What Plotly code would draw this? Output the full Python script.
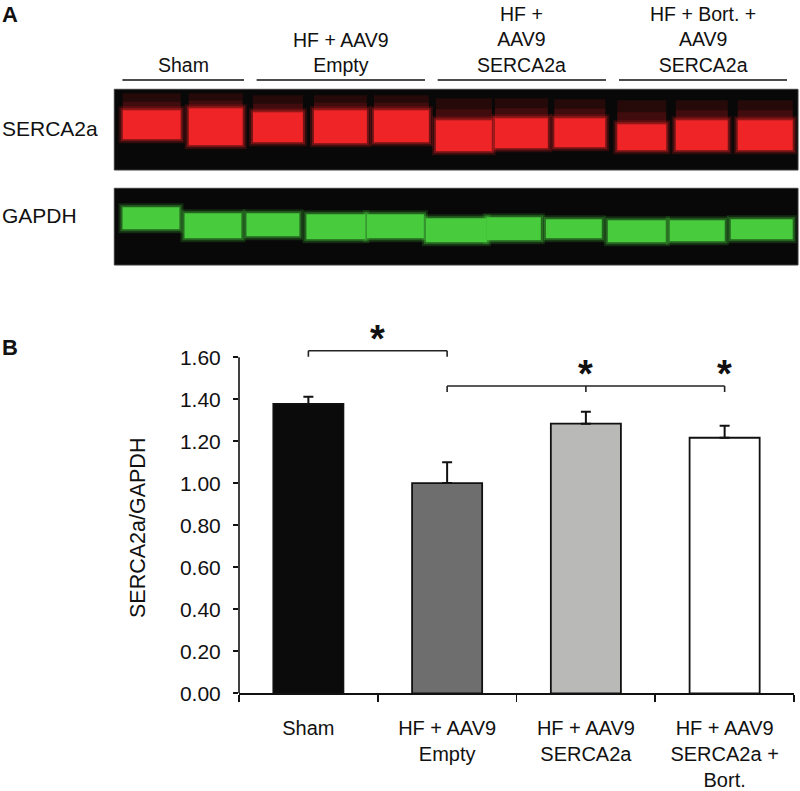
import plotly.graph_objects as go

W, H = 800, 791
FONT = "Liberation Sans, Arial, sans-serif"

# ---------------- Panel B data ----------------
categories = ["Sham", "HF + AAV9<br>Empty", "HF + AAV9<br>SERCA2a", "HF + AAV9<br>SERCA2a +<br>Bort."]
ratio_mean = [1.378, 1.001, 1.284, 1.217]
ratio_sem = [0.034, 0.099, 0.057, 0.057]
bar_colors = ["#0b0b0b", "#6d6e6d", "#b9b9b7", "#ffffff"]
y_ticks = [0.0, 0.2, 0.4, 0.6, 0.8, 1.0, 1.2, 1.4, 1.6]
y_tick_labels = ["0.00", "0.20", "0.40", "0.60", "0.80", "1.00", "1.20", "1.40", "1.60"]
# significance: reference category index -> compared category indices
sig_ref = [0, 1]
sig_targets = [[1], [2, 3]]

# ---------------- Panel A data (blot, units = distance from blot edge) ----------------
group_labels = ["Sham", "HF + AAV9<br>Empty", "HF +<br>AAV9<br>SERCA2a", "HF + Bort. +<br>AAV9<br>SERCA2a"]
lanes_per_group = [2, 3, 3, 3]
red_lane_x = [37.4, 101.5, 163.7, 226.2, 287.2, 349.7, 407.2, 465.7, 527.7, 587.7, 651.2]
red_lane_w = [58, 54, 50, 53, 55, 56, 53, 51, 49, 52, 55]
red_top = [21, 19, 23, 21, 21, 31, 29, 29, 35, 31, 31]
red_bottom = [50, 56, 53, 54, 53, 62, 59, 58, 61, 61, 61]
red_smear_top = [4, 4, 6, 6, 6, 9, 9, 10, 11, 11, 11]
green_lane_x = [36.7, 98.7, 158.7, 221.7, 281.2, 342.2, 399.7, 459.7, 522.7, 583.2, 647.7]
green_lane_w = [57, 57, 53, 59, 57, 61, 54, 56, 58, 55, 62]
green_top = [19, 25, 25, 26, 26, 30, 29, 31, 32, 32, 31]
green_bottom = [41, 50, 48, 51, 50, 54, 52, 50, 54, 53, 51]
RED_H, GREEN_H, BLOT_W = 80.7, 76.7, 684


def px(x):
    return x / W


def py(y):
    return 1 - y / H


fig = go.Figure()

# ---- bar chart ----
fig.add_trace(go.Bar(
    x=categories, y=ratio_mean,
    marker=dict(color=bar_colors, line=dict(color="#111111", width=1.8)),
    error_y=dict(type="data", array=ratio_sem, arrayminus=[0] * len(ratio_sem),
                 symmetric=False, color="#111111", thickness=2, width=5),
    xaxis="x", yaxis="y", showlegend=False, hoverinfo="skip",
))


def band_traces(xs, ws, tops, bottoms, rgb, xa, ya):
    out = []
    for grow, alpha in ((4, 0.18), (2, 0.35)):
        out.append(go.Bar(
            x=xs, y=[b - t + 2 * grow for t, b in zip(tops, bottoms)], base=[t - grow for t in tops],
            width=[w + 2 * grow for w in ws],
            marker=dict(color="rgba(%d,%d,%d,%.2f)" % (rgb + (alpha,)), line_width=0),
            xaxis=xa, yaxis=ya, showlegend=False, hoverinfo="skip"))
    out.append(go.Bar(
        x=xs, y=[b - t for t, b in zip(tops, bottoms)], base=tops,
        width=ws, marker=dict(color="rgb(%d,%d,%d)" % rgb, line_width=0),
        xaxis=xa, yaxis=ya, showlegend=False, hoverinfo="skip"))
    return out


# red smear above SERCA2a bands (two soft layers)
fig.add_trace(go.Bar(
    x=red_lane_x, y=[t - s for s, t in zip(red_smear_top, red_top)], base=red_smear_top,
    width=red_lane_w, marker=dict(color="rgba(110,16,18,0.30)", line_width=0),
    xaxis="x2", yaxis="y2", showlegend=False, hoverinfo="skip"))
fig.add_trace(go.Bar(
    x=red_lane_x, y=[(t - s) / 2 for s, t in zip(red_smear_top, red_top)],
    base=[(s + t) / 2 for s, t in zip(red_smear_top, red_top)],
    width=red_lane_w, marker=dict(color="rgba(130,20,22,0.30)", line_width=0),
    xaxis="x2", yaxis="y2", showlegend=False, hoverinfo="skip"))
for tr in band_traces(red_lane_x, red_lane_w, red_top, red_bottom, (238, 36, 38), "x2", "y2"):
    fig.add_trace(tr)
for tr in band_traces(green_lane_x, green_lane_w, green_top, green_bottom, (72, 204, 62), "x3", "y3"):
    fig.add_trace(tr)

# ---- layout geometry ----
B_TOP_RANGE = 1.78
shapes = []
annotations = []

# blot backgrounds
for xa, ya in (("x2", "y2"), ("x3", "y3")):
    shapes.append(dict(type="rect", xref=xa + " domain", yref=ya + " domain", x0=0, x1=1, y0=0, y1=1,
                       fillcolor="#080808", line=dict(color="#3a3a3a", width=1), layer="below"))

# group lines and labels
line_x = [(122.4, 244), (256.6, 425), (437.7, 606), (619, 787)]
for (x0, x1), lab in zip(line_x, group_labels):
    shapes.append(dict(type="line", xref="paper", yref="paper", x0=px(x0), x1=px(x1),
                       y0=py(80), y1=py(80), line=dict(color="#111111", width=1.6)))
    annotations.append(dict(text=lab, xref="paper", yref="paper", x=px((x0 + x1) / 2), y=py(77),
                            xanchor="center", yanchor="bottom", showarrow=False, borderpad=0,
                            font=dict(size=19.5, color="#111111", family=FONT)))

annotations.append(dict(text="SERCA2a", xref="paper", yref="paper", x=0, y=py(128), xanchor="left",
                        yanchor="middle", showarrow=False, font=dict(size=21, color="#111111", family=FONT)))
annotations.append(dict(text="GAPDH", xref="paper", yref="paper", x=0, y=py(215), xanchor="left",
                        yanchor="middle", showarrow=False, font=dict(size=21, color="#111111", family=FONT)))
annotations.append(dict(text="<b>A</b>", xref="paper", yref="paper", x=0, y=py(14), xanchor="left",
                        yanchor="middle", showarrow=False, font=dict(size=22, color="#111111", family=FONT)))
annotations.append(dict(text="<b>B</b>", xref="paper", yref="paper", x=0, y=py(348), xanchor="left",
                        yanchor="middle", showarrow=False, font=dict(size=22, color="#111111", family=FONT)))
annotations.append(dict(text="SERCA2a/GAPDH", xref="paper", yref="paper", x=px(138), y=py(528),
                        textangle=-90, xanchor="center", yanchor="middle", showarrow=False,
                        font=dict(size=21.5, color="#111111", family=FONT)))

# y axis line only up to last tick
shapes.append(dict(type="line", xref="x domain", yref="y", x0=0, x1=0, y0=0, y1=y_ticks[-1],
                   line=dict(color="#111111", width=1.6)))

# significance brackets
bracket_y = [1.631, 1.463]
drop = 0.028
star_y = [1.714, 1.548]
for ref, targets, by, sy in zip(sig_ref, sig_targets, bracket_y, star_y):
    xs = [ref] + targets
    shapes.append(dict(type="line", xref="x", yref="y", x0=min(xs), x1=max(xs), y0=by, y1=by,
                       line=dict(color="#222222", width=1.6)))
    for xv in xs:
        shapes.append(dict(type="line", xref="x", yref="y", x0=xv, x1=xv, y0=by, y1=by - drop,
                           line=dict(color="#222222", width=1.6)))
    star_positions = [(ref + targets[0]) / 2] if len(targets) == 1 else targets
    for sx in star_positions:
        annotations.append(dict(text="<b>*</b>", xref="x", yref="y", x=sx, y=sy, xanchor="center",
                                yanchor="middle", showarrow=False, yshift=-6,
                                font=dict(size=38, color="#111111", family=FONT)))

fig.update_layout(
    template="none",
    width=W, height=H, margin=dict(l=0, r=0, t=0, b=0, pad=0), autosize=False,
    paper_bgcolor="white", plot_bgcolor="rgba(0,0,0,0)",
    barmode="overlay", bargap=0.495,
    font=dict(family=FONT, color="#111111"),
    xaxis=dict(domain=[px(239), px(794)], range=[-0.5, 3.5], showline=True, linecolor="#111111",
               linewidth=1.6, ticks="outside", tickson="boundaries", ticklen=7, tickwidth=1.6,
               tickcolor="#111111", tickfont=dict(size=20, color="#111111"), showgrid=False,
               zeroline=False, fixedrange=True, automargin=False, anchor="y", ticklabelstandoff=16),
    yaxis=dict(domain=[py(693.3), py(693.3 - B_TOP_RANGE * 210)], range=[0, B_TOP_RANGE],
               tickvals=y_ticks, ticktext=y_tick_labels, ticks="outside", ticklen=5, tickwidth=1.6,
               tickcolor="#111111", tickfont=dict(size=21, color="#111111"), showline=False,
               showgrid=False, zeroline=False, fixedrange=True, automargin=False, anchor="x",
               ticklabelstandoff=8),
    xaxis2=dict(domain=[px(114.3), px(798)], range=[0, BLOT_W], visible=False, anchor="y2",
                automargin=False, fixedrange=True),
    yaxis2=dict(domain=[py(170), py(89.3)], range=[RED_H, 0], visible=False, anchor="x2",
                automargin=False, fixedrange=True),
    xaxis3=dict(domain=[px(114.3), px(798)], range=[0, BLOT_W], visible=False, anchor="y3",
                automargin=False, fixedrange=True),
    yaxis3=dict(domain=[py(265), py(188.3)], range=[GREEN_H, 0], visible=False, anchor="x3",
                automargin=False, fixedrange=True),
    shapes=shapes, annotations=annotations,
)

fig.write_html("out.html", config={"displayModeBar": False, "staticPlot": True},
               post_script="document.body.style.margin='0px';document.body.style.overflow='hidden';")
